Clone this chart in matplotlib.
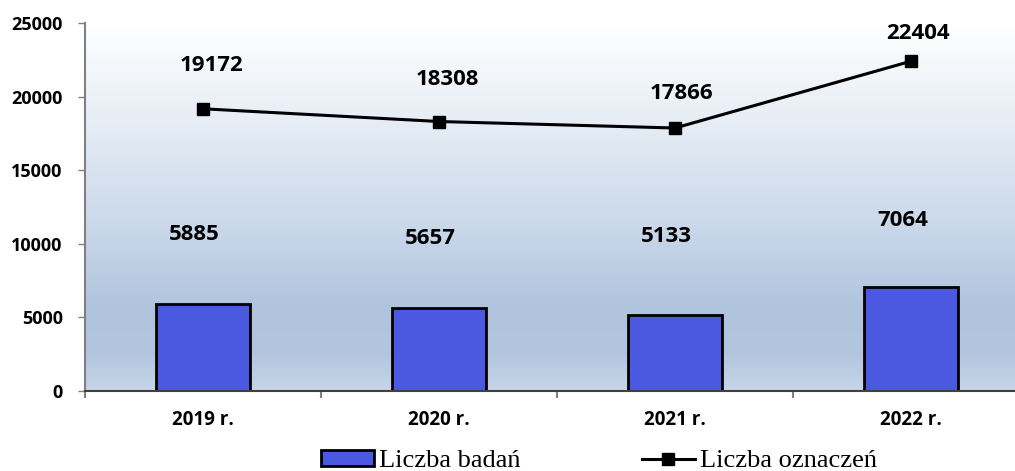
import numpy as np
import matplotlib.pyplot as plt
from matplotlib.colors import LinearSegmentedColormap
from matplotlib.lines import Line2D
from matplotlib.patches import Patch

years = ['2019 r.', '2020 r.', '2021 r.', '2022 r.']
badania = [5885, 5657, 5133, 7064]
oznaczenia = [19172, 18308, 17866, 22404]

# label offsets in points (dx, dy) for each series
bar_lbl_off = [(-6, 50), (-6, 50), (-6, 57), (-6, 48)]
line_lbl_off = [(6, 31), (6, 30), (5, 25), (5, 20)]

FONT = 'Open Sans'

fig = plt.figure(figsize=(10.15, 4.71), dpi=100)
ax = fig.add_axes([85 / 1015, 80 / 471, 944 / 1015, 368 / 471])

# vertical background gradient
bg = LinearSegmentedColormap.from_list('bg', [
    (0.0, '#c6d5e8'), (0.10, '#b3c6df'), (0.22, '#b0c4de'),
    (0.45, '#cad8ea'), (0.70, '#e3ebf4'), (1.0, '#ffffff')])
grad = np.linspace(0, 1, 256).reshape(-1, 1)
ax.imshow(grad, cmap=bg, origin='lower', aspect='auto',
          extent=[-0.5, 3.5, 0, 25000], zorder=0)

x = np.arange(len(years))
ax.bar(x, badania, width=0.4, color='#4a59e0', edgecolor='black',
       linewidth=2, zorder=2)
ax.plot(x, oznaczenia, color='black', linewidth=2.2, marker='s',
        markersize=8, zorder=3)

lbl_font = dict(fontsize=16, fontweight='bold', family=FONT,
                ha='center', va='center')
for i, v in enumerate(badania):
    ax.annotate(str(v), (x[i], v), xytext=bar_lbl_off[i],
                textcoords='offset points', **lbl_font)
for i, v in enumerate(oznaczenia):
    ax.annotate(str(v), (x[i], v), xytext=line_lbl_off[i],
                textcoords='offset points', **lbl_font)

ax.set_xlim(-0.5, 3.5)
ax.set_ylim(0, 25000)
ax.set_yticks(range(0, 25001, 5000))
ax.set_xticks(x)
ax.set_xticklabels(years)
ax.set_xticks(np.arange(-0.5, 3.6, 1), minor=True)
ax.tick_params(axis='x', which='major', length=0, pad=14)
ax.tick_params(axis='x', which='minor', length=5, width=1.5, color='#808080')
ax.tick_params(axis='y', length=5, width=1, color='#808080', pad=11)
for t in ax.get_yticklabels():
    t.set_fontfamily(FONT)
    t.set_fontweight('bold')
    t.set_fontsize(13)
for t in ax.get_xticklabels():
    t.set_fontfamily(FONT)
    t.set_fontweight('bold')
    t.set_fontsize(13.5)

for s in ['top', 'right']:
    ax.spines[s].set_visible(False)
ax.spines['left'].set_color('#808080')
ax.spines['bottom'].set_color('#404040')
ax.spines['left'].set_linewidth(1.5)
ax.spines['bottom'].set_linewidth(1.5)

handles = [Patch(facecolor='#4a59e0', edgecolor='black', linewidth=2),
           Line2D([], [], color='black', linewidth=2.2, marker='s',
                  markersize=8)]
fig.legend(handles, ['Liczba badań', 'Liczba oznaczeń'], ncol=2,
           loc='center', bbox_to_anchor=(599 / 1015, 10 / 471),
           frameon=False, prop={'family': 'Liberation Serif', 'size': 19},
           handlelength=2.0, handletextpad=0.2, columnspacing=4.6,
           handleheight=0.6, borderpad=0)

fig.savefig('out.png', dpi=100)
